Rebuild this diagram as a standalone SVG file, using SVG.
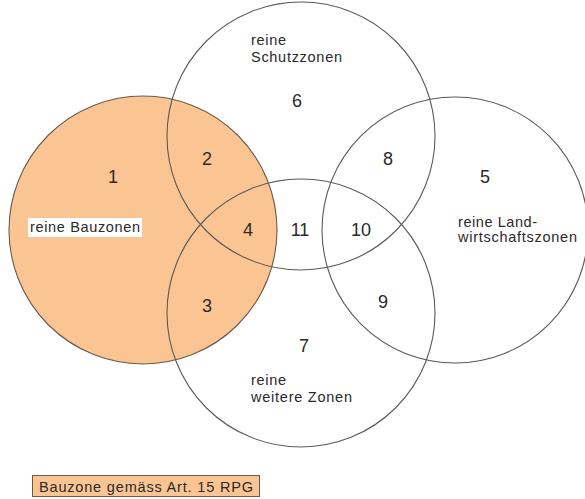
<svg xmlns="http://www.w3.org/2000/svg" width="585" height="499" viewBox="0 0 585 499">
<style>
.c{fill:none;stroke:#5a5a5a;stroke-width:1.1}
.o{fill:#fac592;stroke:#6b5a4a;stroke-width:1.1}
.n{font-family:"Liberation Sans",Arial,sans-serif;font-size:18px;fill:#2a2a2a;text-anchor:middle}
.t{font-family:"Liberation Sans",Arial,sans-serif;font-size:14.5px;fill:#2a2a2a}
</style>
<rect width="585" height="499" fill="#ffffff"/>
<g id="bauzonen">
<circle class="o" cx="143" cy="230" r="134"/>
</g>
<g id="schutzzonen">
<circle class="c" cx="301" cy="136" r="134"/>
</g>
<g id="landwirtschaftszonen">
<circle class="c" cx="455" cy="230" r="133"/>
</g>
<g id="weitere-zonen">
<circle class="c" cx="301" cy="313" r="134"/>
</g>
<g id="labels">
<text class="t" x="251" y="45" textLength="35">reine</text>
<text class="t" x="251" y="62" textLength="91">Schutzzonen</text>
<rect x="28" y="218" width="114" height="19" fill="#ffffff"/>
<text class="t" x="30" y="232" textLength="110">reine Bauzonen</text>
<text class="t" x="458" y="227" textLength="79">reine Land-</text>
<text class="t" x="458" y="242" textLength="119">wirtschaftszonen</text>
<text class="t" x="251" y="385" textLength="35">reine</text>
<text class="t" x="251" y="402" textLength="101">weitere Zonen</text>
<text class="n" x="113" y="183">1</text>
<text class="n" x="207" y="165">2</text>
<text class="n" x="207" y="312">3</text>
<text class="n" x="248" y="236">4</text>
<text class="n" x="485" y="183">5</text>
<text class="n" x="297" y="107">6</text>
<text class="n" x="304" y="352">7</text>
<text class="n" x="388" y="165">8</text>
<text class="n" x="383" y="308">9</text>
<text class="n" x="361" y="236">10</text>
<text class="n" x="300" y="236">11</text>
</g>
<g id="legend">
<rect x="32.5" y="475.5" width="227" height="21" fill="#fac592" stroke="#6b5a4a" stroke-width="1"/>
<text class="t" x="39" y="492" textLength="214">Bauzone gemäss Art. 15 RPG</text>
</g>
</svg>
